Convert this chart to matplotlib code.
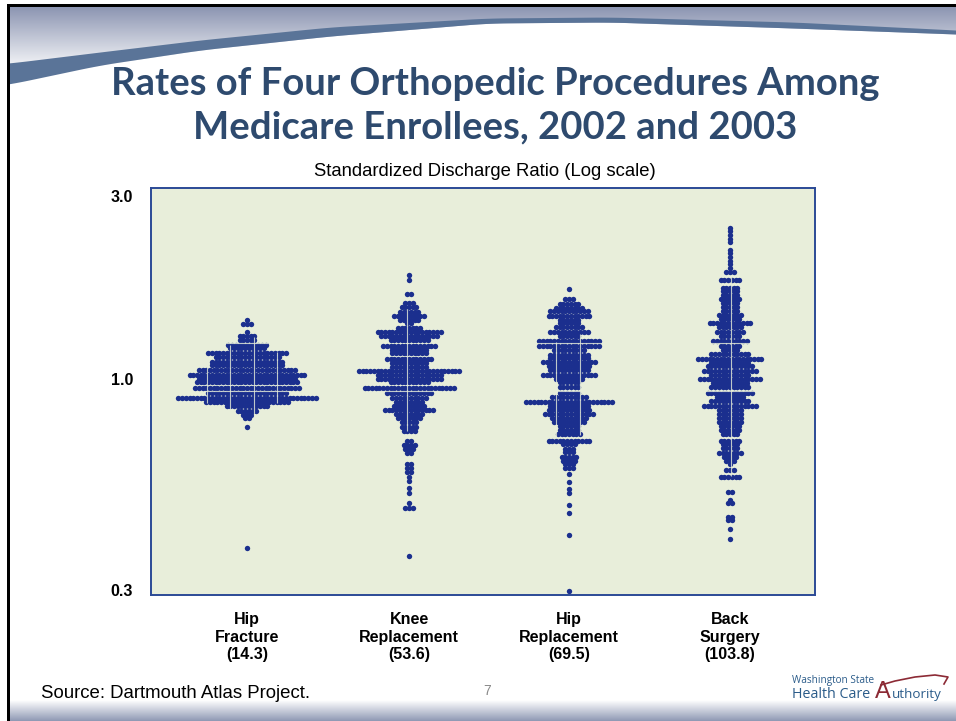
import numpy as np
import matplotlib
matplotlib.use('Agg')
import matplotlib.pyplot as plt
from matplotlib.transforms import ScaledTranslation

W, H = 956, 721

categories = ['Hip\nFracture\n(14.3)', 'Knee\nReplacement\n(53.6)', 'Hip\nReplacement\n(69.5)', 'Back\nSurgery\n(103.8)']

# each dot row: ratio of the row and how many regions sit in it
hip_fracture_ratio = [1.41, 1.378, 1.314, 1.282, 1.255, 1.22, 1.195, 1.163, 1.139, 1.104, 1.082, 1.053, 1.023,
                      1.002, .982, .95, .924, .896, .874, .855, .832, .813, .796, .758, .374]
hip_fracture_count = [1, 3, 1, 5, 5, 11, 10, 22, 18, 20, 20, 27, 32, 27, 28, 29, 22, 38, 23, 12, 6, 3, 2, 1, 1]

knee_ratio = [1.834, 1.78, 1.643, 1.557, 1.523, 1.478, 1.443, 1.41, 1.388, 1.347, 1.314, 1.284, 1.255, 1.212,
              1.185, 1.16, 1.123, 1.1, 1.073, 1.049, 1.023, 1.0, .98, .951, .921, .896, .874, .855, .836, .815,
              .796, .777, .758, .74, .697, .681, .666, .651, .61, .596, .583, .565, .552, .53, .516, .486, .472, .357]
knee_count = [1, 1, 2, 3, 5, 6, 9, 6, 2, 7, 18, 16, 11, 15, 10, 10, 13, 10, 10, 28, 18, 18, 11, 25, 13, 10, 8, 9,
              14, 8, 7, 5, 5, 4, 2, 4, 3, 2, 2, 2, 2, 1, 1, 1, 1, 1, 3, 1]

hip_repl_ratio = [1.69, 1.594, 1.544, 1.513, 1.482, 1.443, 1.413, 1.384, 1.353, 1.314, 1.282, 1.248, 1.215, 1.185,
                  1.153, 1.13, 1.104, 1.08, 1.053, 1.023, 1.002, .98, .955, .921, .902, .876, .855, .837, .818,
                  .796, .78, .762, .745, .727, .699, .684, .667, .653, .634, .621, .609, .596, .577, .55, .529,
                  .516, .482, .46, .403, .291]
hip_repl_count = [1, 3, 6, 8, 11, 12, 6, 6, 8, 11, 6, 17, 17, 9, 11, 11, 15, 12, 11, 15, 8, 6, 6, 6, 10, 24, 11, 12,
                  14, 10, 9, 6, 6, 7, 12, 4, 3, 3, 5, 4, 3, 3, 1, 1, 1, 1, 1, 1, 1, 1]

back_ratio = [2.41, 2.362, 2.312, 2.259, 2.222, 2.12, 2.076, 2.038, 1.991, 1.955, 1.911, 1.86, 1.782, 1.699, 1.665,
              1.627, 1.594, 1.554, 1.519, 1.482, 1.451, 1.419, 1.388, 1.355, 1.314, 1.282, 1.248, 1.215, 1.185,
              1.156, 1.123, 1.1, 1.077, 1.049, 1.023, 1.0, .977, .957, .921, .902, .879, .855, .837, .818, .796,
              .78, .762, .744, .726, .697, .684, .67, .651, .634, .621, .609, .59, .565, .517, .495, .485, .449,
              .44, .417, .395]
back_count = [1, 1, 1, 1, 1, 1, 1, 1, 1, 1, 1, 3, 6, 5, 5, 5, 6, 5, 5, 5, 7, 6, 12, 7, 8, 6, 10, 6, 5, 11, 18, 11,
              13, 15, 11, 17, 10, 11, 13, 8, 11, 15, 7, 7, 7, 7, 6, 6, 5, 6, 5, 5, 7, 4, 3, 1, 3, 6, 2, 1, 2, 2,
              2, 1, 1]

all_ratio = [hip_fracture_ratio, knee_ratio, hip_repl_ratio, back_ratio]
all_count = [hip_fracture_count, knee_count, hip_repl_count, back_count]

# pale seams that cut through the dot blocks: (column, offset, ratio low, ratio high)
v_seams = [(0, -.248, .87, 1.11), (0, -.106, .83, 1.22), (0, .043, .79, 1.28), (0, .186, .87, 1.17),
           (1, -.012, .74, 1.5), (2, -.078, .71, 1.24), (2, .068, .72, 1.3), (3, .006, .57, 1.82)]
# (column, ratio, half width)
h_seams = [(0, 1.233, .13), (0, .933, .27), (1, .933, .19), (2, 1.233, .28), (2, .933, .07),
           (3, .933, .2), (3, 1.233, .18)]

band_x = [-50, 10, 100, 200, 330, 488, 610, 793, 956, 1006]
band_top = [68, 63, 52, 40, 27, 18, 17, 22, 30, 33]
band_bottom = [92, 84, 65, 50, 36, 23, 22, 28, 34, 36]

BG = '#e8eeda'
DOT = '#1b2f8e'
EDGE = '#2b4a96'
SANS = 'Liberation Sans'
TITLE = '#2e4a6e'

fig = plt.figure(figsize=(W / 100, H / 100), dpi=100, facecolor='white')

# slide background in pixel coordinates
bg = fig.add_axes([0, 0, 1, 1], zorder=0)
bg.set_xlim(0, W)
bg.set_ylim(H, 0)
bg.axis('off')
top_col = np.array([0x8c, 0x95, 0xb2]) / 255
low_col = np.array([0xf6, 0xf7, 0xf9]) / 255
t = np.linspace(0, 1, 200)[:, None, None]
bg.imshow(top_col[None, None, :] * (1 - t) + low_col[None, None, :] * t, extent=(0, W, 68, 7), aspect='auto')
xs = np.linspace(-50, 1006, 1057)
box = np.ones(41) / 41
top_edge = np.convolve(np.interp(xs, band_x, band_top), box, mode='same')
low_edge = np.convolve(np.interp(xs, band_x, band_bottom), box, mode='same')
keep = (xs >= 0) & (xs <= W)
bg.fill_between(xs[keep], low_edge[keep], H, color='white', lw=0)
bg.fill_between(xs[keep], top_edge[keep], low_edge[keep], color='#5a7498', lw=0)
foot_col = np.array([0x8f, 0x99, 0xb4]) / 255
t = np.linspace(0, 1, 60)[:, None, None]
bg.imshow(np.ones(3)[None, None, :] * (1 - t) + foot_col[None, None, :] * t, extent=(0, W, H, 700),
          aspect='auto', zorder=2)
bg.set_xlim(0, W)
bg.set_ylim(H, 0)
bg.fill_between([0, 7], 0, H, color='white', lw=0, zorder=3)
bg.fill_between([0, W], 0, 4, color='white', lw=0, zorder=3)
bg.fill_between([7, W], 4, 7, color='black', lw=0, zorder=3)
bg.fill_between([7, 10], 4, H, color='black', lw=0, zorder=3)

bg.text(495, 84, 'Rates of Four Orthopedic Procedures Among', ha='center', va='center', fontsize=27.5,
        fontweight='bold', family='Lato', color=TITLE)
bg.text(495, 127, 'Medicare Enrollees, 2002 and 2003', ha='center', va='center', fontsize=27.5,
        fontweight='bold', family='Lato', color=TITLE)
bg.text(485, 172, 'Standardized Discharge Ratio (Log scale)', ha='center', va='center', fontsize=13.3, family=SANS)
bg.text(41, 693, 'Source: Dartmouth Atlas Project.', ha='left', va='center', fontsize=13.4, family=SANS)
bg.text(487, 691, '7', ha='center', va='center', fontsize=10, family=SANS, color='#8a8a8a')

# logo
bg.text(792, 681, 'Washington State', ha='left', va='center', fontsize=7.2, family='Open Sans', color='#2b5c8a')
bg.text(792, 694.5, 'Health Care', ha='left', va='center', fontsize=10.3, family='Open Sans', color='#2b5c8a')
bg.text(883, 692, 'A', ha='center', va='center', fontsize=17, family='Liberation Sans', color='#8c2a35')
bg.text(892, 694.5, 'uthority', ha='left', va='center', fontsize=9.6, family='Open Sans', color='#2b5c8a')
bg.plot([881, 895, 915, 935, 948, 944], [685, 681, 677, 675, 677, 684], color='#8c2a35', lw=1.2)

# chart panel
ax = fig.add_axes([151 / W, 1 - 595 / H, (815 - 151) / W, (595 - 188) / H], zorder=1)
ax.set_facecolor(BG)
ax.set_yscale('log')
ax.set_xlim(.404, 4.526)
ax.set_ylim(.2848, 3.036)
for s in ax.spines.values():
    s.set_color(EDGE)
    s.set_linewidth(1.4)

centers = [1.0, 2.006, 2.999, 3.998]
dx = .023
for c, ratios, counts in zip(centers, all_ratio, all_count):
    px, py = [], []
    for r, n in zip(ratios, counts):
        for k in range(n):
            px.append(c + dx * (k - (n - 1) / 2))
            py.append(r)
    ax.scatter(px, py, s=15, color=DOT, linewidths=0, zorder=2)

for col, off, lo, hi in v_seams:
    ax.vlines(centers[col] + off, lo, hi, color=BG, lw=.8, alpha=.8, zorder=3)
for col, r, half in h_seams:
    ax.hlines(r, centers[col] - half, centers[col] + half, color=BG, lw=.8, alpha=.8, zorder=3)

ax.set_xticks(centers)
ax.set_xticklabels(categories, fontsize=11.5, fontweight='bold', family=SANS, linespacing=1.2)
ax.tick_params(axis='x', length=0, pad=12.5)
ax.set_yticks([3.0, 1.0, .3])
ax.set_yticklabels(['3.0', '1.0', '0.3'], fontsize=11.5, fontweight='bold', family=SANS)
ax.minorticks_off()
ax.tick_params(axis='y', length=0, pad=13)
for lab, shift in zip(ax.get_yticklabels(), [-6, 0, -4]):
    lab.set_transform(lab.get_transform() + ScaledTranslation(0, shift / 100, fig.dpi_scale_trans))

fig.savefig('out.png', dpi=100)
